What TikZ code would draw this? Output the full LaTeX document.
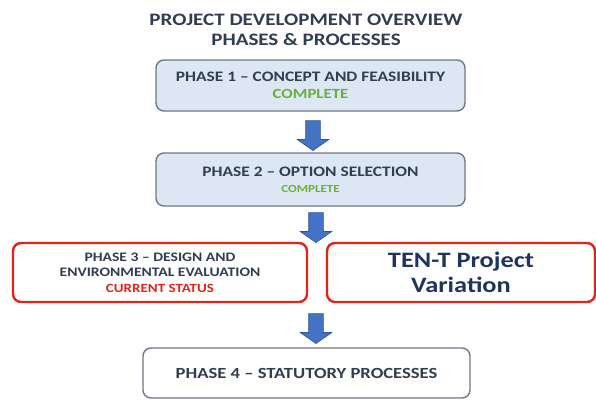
\documentclass[tikz,border=0pt]{standalone}
\usepackage{fontspec}
\setmainfont{Carlito}[FakeStretch=1.2]
\usetikzlibrary{positioning,shapes.arrows}
\definecolor{ink}{HTML}{323D52}
\definecolor{navy}{HTML}{1F3560}
\definecolor{done}{HTML}{6AAE3C}
\definecolor{alert}{HTML}{E2231A}
\definecolor{boxfill}{HTML}{DDE7F3}
\definecolor{boxline}{HTML}{6E7787}
\definecolor{arrowfill}{HTML}{4472C4}
\definecolor{arrowline}{HTML}{2F5597}
\newcommand{\fs}[1]{\fontsize{#1}{#1}\selectfont}

\begin{document}
\begin{tikzpicture}[
  x=1pt, y=-1pt,
  phase/.style={draw=boxline, line width=1.4pt, rounded corners=8pt, inner sep=0pt,
    align=center, text=ink, font=\bfseries},
  donephase/.style={phase, fill=boxfill},
  openphase/.style={phase, fill=white},
  redphase/.style={phase, draw=alert, line width=2.4pt, fill=white},
  downarr/.style={single arrow, draw=arrowline, fill=arrowfill, line width=0.6pt,
    shape border rotate=270, inner sep=7pt, minimum width=31pt, minimum height=30pt,
    single arrow head extend=8.5pt, single arrow tip angle=110, single arrow head indent=0pt},
  title/.style={align=center, text=ink, font=\bfseries\fontsize{17.5}{20}\selectfont}
]
  \useasboundingbox (0,0) rectangle (596,400);

  \node[title] (head) at (306,30) {PROJECT DEVELOPMENT OVERVIEW\\PHASES \& PROCESSES};

  \node[donephase, minimum width=309pt, minimum height=51pt] (p1) at (310.5,85.5)
    {\fs{14.5}PHASE 1 -- CONCEPT AND FEASIBILITY\\[5pt]\fs{14}\color{done}COMPLETE};
  \node[donephase, minimum width=309pt, minimum height=53pt] (p2) at (310.5,179.5)
    {\fs{14.5}PHASE 2 -- OPTION SELECTION\\[4pt]\fs{10.8}\color{done}COMPLETE};
  \node[redphase, minimum width=294pt, minimum height=59pt] (p3) at (160,272.5)
    {\fs{13}PHASE 3 -- DESIGN AND\\[3.5pt]\fs{13}ENVIRONMENTAL EVALUATION\\[3.5pt]\fs{12.5}\color{alert}CURRENT STATUS};
  \node[redphase, minimum width=268pt, minimum height=59pt, text=navy] (tent) at (461,272.5)
    {\fs{22}TEN-T Project\\[5pt]\fs{22}Variation};
  \node[openphase, minimum width=327pt, minimum height=50pt] (p4) at (306.5,373)
    {\fs{15.5}PHASE 4 -- STATUTORY PROCESSES};

  \node[downarr] (a1) at (313,133) {};
  \node[downarr] (a2) at (316,225) {};
  \node[downarr] (a3) at (316,326) {};
\end{tikzpicture}
\end{document}
